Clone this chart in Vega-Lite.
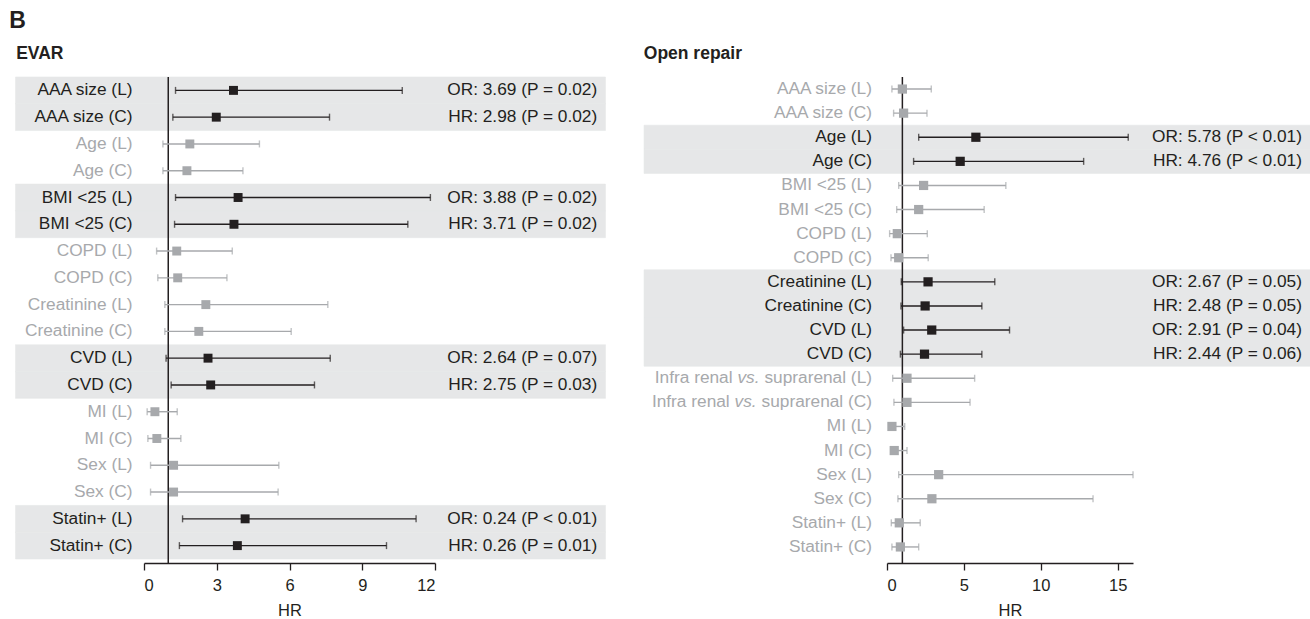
{
  "$schema": "https://vega.github.io/schema/vega-lite/v6.json",
  "padding": {"left": 9, "right": 0, "top": 10, "bottom": 0},
  "background": "white",
  "title": {"text": "B", "anchor": "start", "fontSize": 23, "fontWeight": "bold", "dx": -6, "offset": 12, "font": "Liberation Sans", "color": "#231f20"},
  "config": {
    "view": {"stroke": null},
    "font": "Liberation Sans",
    "text": {"font": "Liberation Sans"},
    "axis": {"labelFont": "Liberation Sans", "titleFont": "Liberation Sans", "grid": false, "offset": 4, "tickSize": 7, "tickColor": "#231f20", "domainColor": "#231f20", "domainWidth": 1.3, "tickWidth": 1.3, "labelFontSize": 16.5, "labelColor": "#231f20", "labelPadding": 7, "titleFontSize": 16.5, "titleFontWeight": "normal", "titleColor": "#231f20", "titlePadding": 9}
  },
  "datasets": {
    "evar": [
      {"order": 1, "label": "AAA size (L)", "tail": "AAA size (L)", "hr": 3.69, "lo": 1.30, "hi": 10.65, "sig": "Y", "annot": "OR: 3.69 (P = 0.02)"},
      {"order": 2, "label": "AAA size (C)", "tail": "AAA size (C)", "hr": 2.98, "lo": 1.19, "hi": 7.65, "sig": "Y", "annot": "HR: 2.98 (P = 0.02)"},
      {"order": 3, "label": "Age (L)", "tail": "Age (L)", "hr": 1.89, "lo": 0.78, "hi": 4.76, "sig": "N", "annot": ""},
      {"order": 4, "label": "Age (C)", "tail": "Age (C)", "hr": 1.77, "lo": 0.78, "hi": 4.08, "sig": "N", "annot": ""},
      {"order": 5, "label": "BMI <25 (L)", "tail": "BMI <25 (L)", "hr": 3.88, "lo": 1.30, "hi": 11.81, "sig": "Y", "annot": "OR: 3.88 (P = 0.02)"},
      {"order": 6, "label": "BMI <25 (C)", "tail": "BMI <25 (C)", "hr": 3.71, "lo": 1.26, "hi": 10.88, "sig": "Y", "annot": "HR: 3.71 (P = 0.02)"},
      {"order": 7, "label": "COPD (L)", "tail": "COPD (L)", "hr": 1.35, "lo": 0.52, "hi": 3.64, "sig": "N", "annot": ""},
      {"order": 8, "label": "COPD (C)", "tail": "COPD (C)", "hr": 1.39, "lo": 0.57, "hi": 3.42, "sig": "N", "annot": ""},
      {"order": 9, "label": "Creatinine (L)", "tail": "Creatinine (L)", "hr": 2.55, "lo": 0.86, "hi": 7.58, "sig": "N", "annot": ""},
      {"order": 10, "label": "Creatinine (C)", "tail": "Creatinine (C)", "hr": 2.26, "lo": 0.86, "hi": 6.07, "sig": "N", "annot": ""},
      {"order": 11, "label": "CVD (L)", "tail": "CVD (L)", "hr": 2.64, "lo": 0.91, "hi": 7.68, "sig": "Y", "annot": "OR: 2.64 (P = 0.07)"},
      {"order": 12, "label": "CVD (C)", "tail": "CVD (C)", "hr": 2.75, "lo": 1.12, "hi": 7.03, "sig": "Y", "annot": "HR: 2.75 (P = 0.03)"},
      {"order": 13, "label": "MI (L)", "tail": "MI (L)", "hr": 0.45, "lo": 0.13, "hi": 1.37, "sig": "N", "annot": ""},
      {"order": 14, "label": "MI (C)", "tail": "MI (C)", "hr": 0.53, "lo": 0.16, "hi": 1.52, "sig": "N", "annot": ""},
      {"order": 15, "label": "Sex (L)", "tail": "Sex (L)", "hr": 1.22, "lo": 0.27, "hi": 5.56, "sig": "N", "annot": ""},
      {"order": 16, "label": "Sex (C)", "tail": "Sex (C)", "hr": 1.22, "lo": 0.27, "hi": 5.53, "sig": "N", "annot": ""},
      {"order": 17, "label": "Statin+ (L)", "tail": "Statin+ (L)", "hr": 4.17, "lo": 1.59, "hi": 11.22, "sig": "Y", "annot": "OR: 0.24 (P < 0.01)"},
      {"order": 18, "label": "Statin+ (C)", "tail": "Statin+ (C)", "hr": 3.85, "lo": 1.46, "hi": 10.0, "sig": "Y", "annot": "HR: 0.26 (P = 0.01)"}
    ],
    "open": [
      {"order": 1, "label": "AAA size (L)", "tail": "AAA size (L)", "hr": 1.0, "lo": 0.32, "hi": 2.88, "sig": "N", "annot": ""},
      {"order": 2, "label": "AAA size (C)", "tail": "AAA size (C)", "hr": 1.08, "lo": 0.43, "hi": 2.60, "sig": "N", "annot": ""},
      {"order": 3, "label": "Age (L)", "tail": "Age (L)", "hr": 5.78, "lo": 2.06, "hi": 15.69, "sig": "Y", "annot": "OR: 5.78 (P < 0.01)"},
      {"order": 4, "label": "Age (C)", "tail": "Age (C)", "hr": 4.76, "lo": 1.73, "hi": 12.79, "sig": "Y", "annot": "HR: 4.76 (P < 0.01)"},
      {"order": 5, "label": "BMI <25 (L)", "tail": "BMI <25 (L)", "hr": 2.38, "lo": 0.76, "hi": 7.73, "sig": "N", "annot": ""},
      {"order": 6, "label": "BMI <25 (C)", "tail": "BMI <25 (C)", "hr": 2.06, "lo": 0.63, "hi": 6.32, "sig": "N", "annot": ""},
      {"order": 7, "label": "COPD (L)", "tail": "COPD (L)", "hr": 0.67, "lo": 0.17, "hi": 2.62, "sig": "N", "annot": ""},
      {"order": 8, "label": "COPD (C)", "tail": "COPD (C)", "hr": 0.76, "lo": 0.26, "hi": 2.68, "sig": "N", "annot": ""},
      {"order": 9, "label": "Creatinine (L)", "tail": "Creatinine (L)", "hr": 2.67, "lo": 0.93, "hi": 7.01, "sig": "Y", "annot": "OR: 2.67 (P = 0.05)"},
      {"order": 10, "label": "Creatinine (C)", "tail": "Creatinine (C)", "hr": 2.48, "lo": 0.91, "hi": 6.17, "sig": "Y", "annot": "HR: 2.48 (P = 0.05)"},
      {"order": 11, "label": "CVD (L)", "tail": "CVD (L)", "hr": 2.91, "lo": 1.08, "hi": 7.97, "sig": "Y", "annot": "OR: 2.91 (P = 0.04)"},
      {"order": 12, "label": "CVD (C)", "tail": "CVD (C)", "hr": 2.44, "lo": 0.87, "hi": 6.17, "sig": "Y", "annot": "HR: 2.44 (P = 0.06)"},
      {"order": 13, "label": "Infra renal vs. suprarenal (L)", "tail": "suprarenal (L)", "hr": 1.30, "lo": 0.37, "hi": 5.7, "sig": "N", "annot": ""},
      {"order": 14, "label": "Infra renal vs. suprarenal (C)", "tail": "suprarenal (C)", "hr": 1.30, "lo": 0.45, "hi": 5.4, "sig": "N", "annot": ""},
      {"order": 15, "label": "MI (L)", "tail": "MI (L)", "hr": 0.32, "lo": 0.15, "hi": 1.15, "sig": "N", "annot": ""},
      {"order": 16, "label": "MI (C)", "tail": "MI (C)", "hr": 0.47, "lo": 0.30, "hi": 1.30, "sig": "N", "annot": ""},
      {"order": 17, "label": "Sex (L)", "tail": "Sex (L)", "hr": 3.36, "lo": 0.76, "hi": 16.0, "sig": "N", "annot": ""},
      {"order": 18, "label": "Sex (C)", "tail": "Sex (C)", "hr": 2.92, "lo": 0.71, "hi": 13.4, "sig": "N", "annot": ""},
      {"order": 19, "label": "Statin+ (L)", "tail": "Statin+ (L)", "hr": 0.80, "lo": 0.28, "hi": 2.16, "sig": "N", "annot": ""},
      {"order": 20, "label": "Statin+ (C)", "tail": "Statin+ (C)", "hr": 0.87, "lo": 0.32, "hi": 2.06, "sig": "N", "annot": ""}
    ]
  },
  "spacing": 37,
  "hconcat": [
    {
      "title": {"text": "EVAR", "anchor": "start", "frame": "bounds", "dx": 1, "fontSize": 17.5, "fontWeight": "bold", "offset": 13.7, "color": "#231f20"},
      "width": 291,
      "height": 482,
      "data": {"name": "evar"},
      "layer": [
        {"mark": {"type": "rect", "strokeWidth": 0.6},
         "encoding": {
           "y": {"field": "label", "type": "nominal", "sort": {"field": "order", "op": "min"}, "scale": {"paddingInner": 0, "paddingOuter": 0}, "axis": null},
           "x": {"datum": -5.30, "type": "quantitative"}, "x2": {"datum": 19.03},
           "fill": {"condition": {"test": "datum.sig === 'Y'", "value": "#e6e7e8"}, "value": "transparent"},
           "stroke": {"condition": {"test": "datum.sig === 'Y'", "value": "#e6e7e8"}, "value": "transparent"}}},
        {"data": {"values": [{}]}, "mark": {"type": "rule", "color": "#231f20", "strokeWidth": 1.5},
         "encoding": {"x": {"datum": 1, "type": "quantitative"}, "y": {"value": 0}, "y2": {"value": {"expr": "height + 4"}}}},
        {"mark": {"type": "rule", "strokeWidth": 1.4},
         "encoding": {
           "y": {"field": "label", "type": "nominal", "sort": {"field": "order", "op": "min"}, "axis": null},
           "x": {"field": "lo", "type": "quantitative", "title": "HR", "scale": {"domain": [0, 12], "nice": false, "zero": false}, "axis": {"values": [0, 3, 6, 9, 12]}},
           "x2": {"field": "hi"},
           "color": {"field": "sig", "type": "nominal", "scale": {"domain": ["Y", "N"], "range": ["#231f20", "#a7a9ac"]}, "legend": null}}},
        {"mark": {"type": "tick", "size": 7, "thickness": 1.4},
         "encoding": {"y": {"field": "label", "type": "nominal", "sort": {"field": "order", "op": "min"}}, "x": {"field": "lo", "type": "quantitative"}, "color": {"field": "sig", "type": "nominal"}}},
        {"mark": {"type": "tick", "size": 7, "thickness": 1.4},
         "encoding": {"y": {"field": "label", "type": "nominal", "sort": {"field": "order", "op": "min"}}, "x": {"field": "hi", "type": "quantitative"}, "color": {"field": "sig", "type": "nominal"}}},
        {"mark": {"type": "point", "shape": "square", "filled": true, "size": 80, "opacity": 1},
         "encoding": {"y": {"field": "label", "type": "nominal", "sort": {"field": "order", "op": "min"}}, "x": {"field": "hr", "type": "quantitative"}, "color": {"field": "sig", "type": "nominal"}}},
        {"mark": {"type": "text", "align": "right", "baseline": "middle", "fontSize": 17.3},
         "encoding": {"y": {"field": "label", "type": "nominal", "sort": {"field": "order", "op": "min"}}, "x": {"datum": -0.474, "type": "quantitative"}, "text": {"field": "tail"}, "color": {"field": "sig", "type": "nominal"}}},
        {"mark": {"type": "text", "align": "right", "baseline": "middle", "fontSize": 17.3, "color": "#231f20"},
         "encoding": {"y": {"field": "label", "type": "nominal", "sort": {"field": "order", "op": "min"}}, "x": {"datum": 18.69, "type": "quantitative"}, "text": {"field": "annot"}}}
      ]
    },
    {
      "title": {"text": "Open repair", "anchor": "start", "frame": "bounds", "fontSize": 17.5, "fontWeight": "bold", "offset": 13.7, "color": "#231f20"},
      "width": 246,
      "height": 482,
      "data": {"name": "open"},
      "layer": [
        {"mark": {"type": "rect", "strokeWidth": 0.6},
         "encoding": {
           "y": {"field": "label", "type": "nominal", "sort": {"field": "order", "op": "min"}, "scale": {"paddingInner": 0, "paddingOuter": 0}, "axis": null},
           "x": {"datum": -15.8, "type": "quantitative"}, "x2": {"datum": 27.64},
           "fill": {"condition": {"test": "datum.sig === 'Y'", "value": "#e6e7e8"}, "value": "transparent"},
           "stroke": {"condition": {"test": "datum.sig === 'Y'", "value": "#e6e7e8"}, "value": "transparent"}}},
        {"data": {"values": [{}]}, "mark": {"type": "rule", "color": "#231f20", "strokeWidth": 1.5},
         "encoding": {"x": {"datum": 1, "type": "quantitative"}, "y": {"value": 0}, "y2": {"value": {"expr": "height + 4"}}}},
        {"mark": {"type": "rule", "strokeWidth": 1.4},
         "encoding": {
           "y": {"field": "label", "type": "nominal", "sort": {"field": "order", "op": "min"}, "axis": null},
           "x": {"field": "lo", "type": "quantitative", "title": "HR", "scale": {"domain": [0, 16], "nice": false, "zero": false}, "axis": {"values": [0, 5, 10, 15]}},
           "x2": {"field": "hi"},
           "color": {"field": "sig", "type": "nominal", "scale": {"domain": ["Y", "N"], "range": ["#231f20", "#a7a9ac"]}, "legend": null}}},
        {"mark": {"type": "tick", "size": 7, "thickness": 1.4},
         "encoding": {"y": {"field": "label", "type": "nominal", "sort": {"field": "order", "op": "min"}}, "x": {"field": "lo", "type": "quantitative"}, "color": {"field": "sig", "type": "nominal"}}},
        {"mark": {"type": "tick", "size": 7, "thickness": 1.4},
         "encoding": {"y": {"field": "label", "type": "nominal", "sort": {"field": "order", "op": "min"}}, "x": {"field": "hi", "type": "quantitative"}, "color": {"field": "sig", "type": "nominal"}}},
        {"mark": {"type": "point", "shape": "square", "filled": true, "size": 85, "opacity": 1},
         "encoding": {"y": {"field": "label", "type": "nominal", "sort": {"field": "order", "op": "min"}}, "x": {"field": "hr", "type": "quantitative"}, "color": {"field": "sig", "type": "nominal"}}},
        {"mark": {"type": "text", "align": "right", "baseline": "middle", "fontSize": 17.3},
         "encoding": {"y": {"field": "label", "type": "nominal", "sort": {"field": "order", "op": "min"}}, "x": {"datum": -0.976, "type": "quantitative"}, "text": {"field": "tail"}, "color": {"field": "sig", "type": "nominal"}}},
        {"mark": {"type": "text", "align": "right", "baseline": "middle", "fontSize": 17.3, "fontStyle": "italic", "dx": -112.49, "color": "#a7a9ac"},
         "encoding": {"y": {"field": "label", "type": "nominal", "sort": {"field": "order", "op": "min"}}, "x": {"datum": -0.976, "type": "quantitative"}, "text": {"condition": {"test": "datum.label === 'Infra renal vs. suprarenal (L)'", "value": "vs."}, "value": ""}}},
        {"mark": {"type": "text", "align": "right", "baseline": "middle", "fontSize": 17.3, "dx": -139.42, "color": "#a7a9ac"},
         "encoding": {"y": {"field": "label", "type": "nominal", "sort": {"field": "order", "op": "min"}}, "x": {"datum": -0.976, "type": "quantitative"}, "text": {"condition": {"test": "datum.label === 'Infra renal vs. suprarenal (L)'", "value": "Infra renal"}, "value": ""}}},
        {"mark": {"type": "text", "align": "right", "baseline": "middle", "fontSize": 17.3, "fontStyle": "italic", "dx": -115.36, "color": "#a7a9ac"},
         "encoding": {"y": {"field": "label", "type": "nominal", "sort": {"field": "order", "op": "min"}}, "x": {"datum": -0.976, "type": "quantitative"}, "text": {"condition": {"test": "datum.label === 'Infra renal vs. suprarenal (C)'", "value": "vs."}, "value": ""}}},
        {"mark": {"type": "text", "align": "right", "baseline": "middle", "fontSize": 17.3, "dx": -142.29, "color": "#a7a9ac"},
         "encoding": {"y": {"field": "label", "type": "nominal", "sort": {"field": "order", "op": "min"}}, "x": {"datum": -0.976, "type": "quantitative"}, "text": {"condition": {"test": "datum.label === 'Infra renal vs. suprarenal (C)'", "value": "Infra renal"}, "value": ""}}},
        {"mark": {"type": "text", "align": "right", "baseline": "middle", "fontSize": 17.3, "color": "#231f20"},
         "encoding": {"y": {"field": "label", "type": "nominal", "sort": {"field": "order", "op": "min"}}, "x": {"datum": 26.99, "type": "quantitative"}, "text": {"field": "annot"}}}
      ]
    }
  ]
}
